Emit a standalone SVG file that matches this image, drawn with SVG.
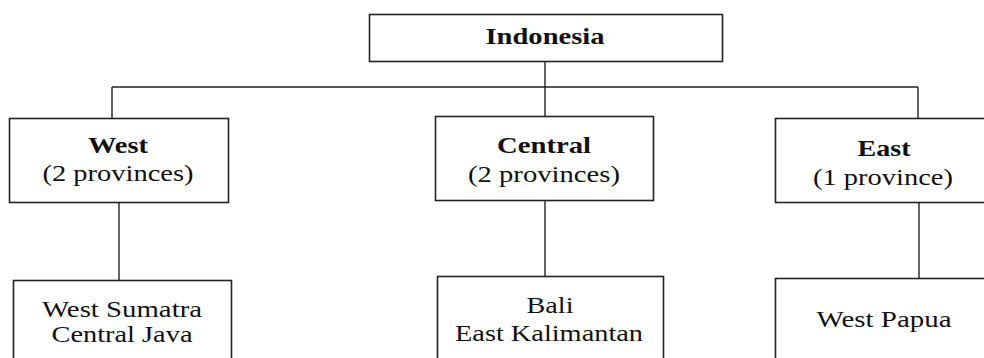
<svg xmlns="http://www.w3.org/2000/svg" width="984" height="358" viewBox="0 0 984 358">
<style>
rect.box{fill:#fff;stroke:#222;stroke-width:1.6}
.con line{stroke:#222;stroke-width:1.4}
text{font-family:"Liberation Serif","Times New Roman",serif;font-size:24px;fill:#111;text-anchor:middle}
text.b{font-weight:bold}
</style>
<rect width="984" height="358" fill="#fff"/>
<g class="con">
<line x1="545" y1="61" x2="545" y2="87"/>
<line x1="112" y1="87" x2="918" y2="87"/>
<line x1="112" y1="87" x2="112" y2="118"/>
<line x1="545" y1="87" x2="545" y2="116"/>
<line x1="918" y1="87" x2="918" y2="118"/>
<line x1="119" y1="202" x2="119" y2="280"/>
<line x1="545" y1="200" x2="545" y2="276"/>
<line x1="919" y1="202" x2="919" y2="278"/>
</g>
<g id="indonesia">
<rect class="box" x="369.5" y="14.5" width="353" height="47"/>
<text class="b" x="545" y="44" textLength="119" lengthAdjust="spacingAndGlyphs">Indonesia</text>
</g>
<g id="west">
<rect class="box" x="9.5" y="118.5" width="219" height="84"/>
<text class="b" x="118" y="153" textLength="60" lengthAdjust="spacingAndGlyphs">West</text>
<text x="118" y="181" textLength="151" lengthAdjust="spacingAndGlyphs">(2 provinces)</text>
</g>
<g id="central">
<rect class="box" x="435.5" y="116.5" width="218" height="84"/>
<text class="b" x="544" y="153" textLength="94" lengthAdjust="spacingAndGlyphs">Central</text>
<text x="544" y="182" textLength="152" lengthAdjust="spacingAndGlyphs">(2 provinces)</text>
</g>
<g id="east">
<rect class="box" x="775.5" y="118.5" width="230" height="84"/>
<text class="b" x="884" y="156" textLength="53" lengthAdjust="spacingAndGlyphs">East</text>
<text x="883" y="185" textLength="140" lengthAdjust="spacingAndGlyphs">(1 province)</text>
</g>
<g id="west-provinces">
<rect class="box" x="13.5" y="280.5" width="218" height="100"/>
<text x="122" y="317" textLength="160" lengthAdjust="spacingAndGlyphs">West Sumatra</text>
<text x="122" y="342" textLength="141" lengthAdjust="spacingAndGlyphs">Central Java</text>
</g>
<g id="central-provinces">
<rect class="box" x="437.5" y="276.5" width="226" height="100"/>
<text x="550" y="313" textLength="47" lengthAdjust="spacingAndGlyphs">Bali</text>
<text x="549" y="341" textLength="188" lengthAdjust="spacingAndGlyphs">East Kalimantan</text>
</g>
<g id="east-provinces">
<rect class="box" x="775.5" y="278.5" width="230" height="100"/>
<text x="884" y="327" textLength="135" lengthAdjust="spacingAndGlyphs">West Papua</text>
</g>
</svg>
